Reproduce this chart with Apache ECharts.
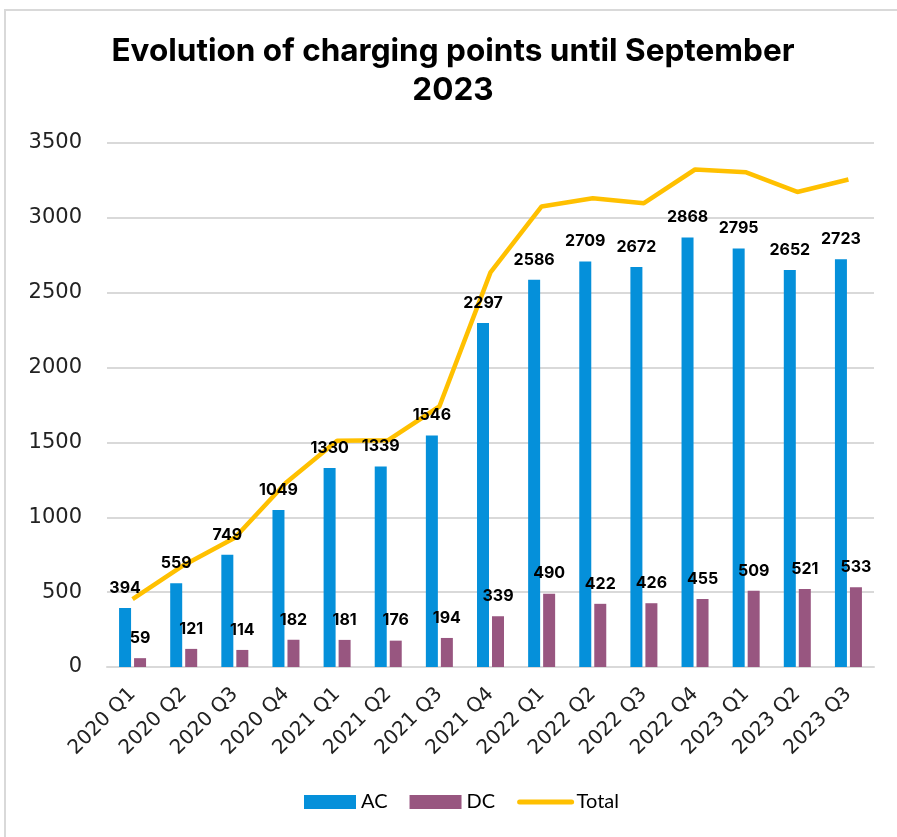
<!DOCTYPE html>
<html>
<head>
<meta charset="utf-8">
<script src="https://cdn.jsdelivr.net/npm/echarts@6/dist/echarts.min.js"></script>
<style>html,body{margin:0;padding:0;background:#fff}#c{width:897px;height:837px}</style>
</head>
<body>
<div id="c"></div>
<script>
const categories = ['2020 Q1','2020 Q2','2020 Q3','2020 Q4','2021 Q1','2021 Q2','2021 Q3','2021 Q4','2022 Q1','2022 Q2','2022 Q3','2022 Q4','2023 Q1','2023 Q2','2023 Q3'];
const acValues = [394,559,749,1049,1330,1339,1546,2297,2586,2709,2672,2868,2795,2652,2723];
const dcValues = [59,121,114,182,181,176,194,339,490,422,426,455,509,521,533];
const totalValues = [453,680,863,1231,1511,1515,1740,2636,3076,3131,3098,3323,3304,3173,3256];
const yTicks = [0,500,1000,1500,2000,2500,3000,3500];

const chart = echarts.init(document.getElementById('c'));
const labelStyle = {show:true, position:'top', distance:12, color:'#000', fontFamily:'Inter', fontWeight:'bold', fontSize:16};
chart.setOption({
  animation:false,
  backgroundColor:'#fff',
  title:{
    text:'Evolution of charging points until September\n2023',
    left:453, top:32, padding:0, textAlign:'center',
    textStyle:{fontFamily:'Inter', fontWeight:'bold', fontSize:31.5, lineHeight:39, color:'#000'}
  },
  graphic:[{
    type:'polyline',
    shape:{points:[[5,837],[5,10],[897,10]]},
    style:{stroke:'#d9d9d9', lineWidth:2, fill:null}
  }],
  legend:{
    bottom:20, left:299,
    itemWidth:52, itemHeight:14, itemGap:22,
    textStyle:{fontFamily:'Lato', fontSize:20, color:'#000'},
    data:[
      {name:'AC', icon:'rect'},
      {name:'DC', icon:'rect'},
      {name:'Total', itemStyle:{opacity:0}, lineStyle:{width:5, color:'#FFC000', cap:'round'}}
    ]
  },
  grid:{left:107, right:23, top:143, bottom:170},
  xAxis:{
    type:'category', data:categories,
    axisLine:{lineStyle:{color:'#d9d9d9', width:2}},
    axisTick:{show:false},
    axisLabel:{rotate:45, margin:24, interval:0, fontFamily:'DejaVu Sans', fontSize:20, color:'#222'}
  },
  yAxis:{
    type:'value', min:yTicks[0], max:yTicks[yTicks.length-1], interval:500,
    axisLine:{show:false}, axisTick:{show:false},
    splitLine:{lineStyle:{color:'#d9d9d9', width:2}},
    axisLabel:{margin:25, fontFamily:'DejaVu Sans', fontSize:21, color:'#222', formatter:function(v){return String(v);}}
  },
  series:[
    {name:'AC', type:'bar', z:2, data:acValues, barWidth:12, barGap:'25%', itemStyle:{color:'#0590DA'}, label:labelStyle},
    {name:'DC', type:'bar', z:2, data:dcValues, barWidth:12, itemStyle:{color:'#985680'}, label:labelStyle},
    {name:'Total', type:'line', data:totalValues, symbol:'none', z:1, lineStyle:{color:'#FFC000', width:4.5}, itemStyle:{color:'#FFC000'}}
  ]
});
</script>
</body>
</html>
